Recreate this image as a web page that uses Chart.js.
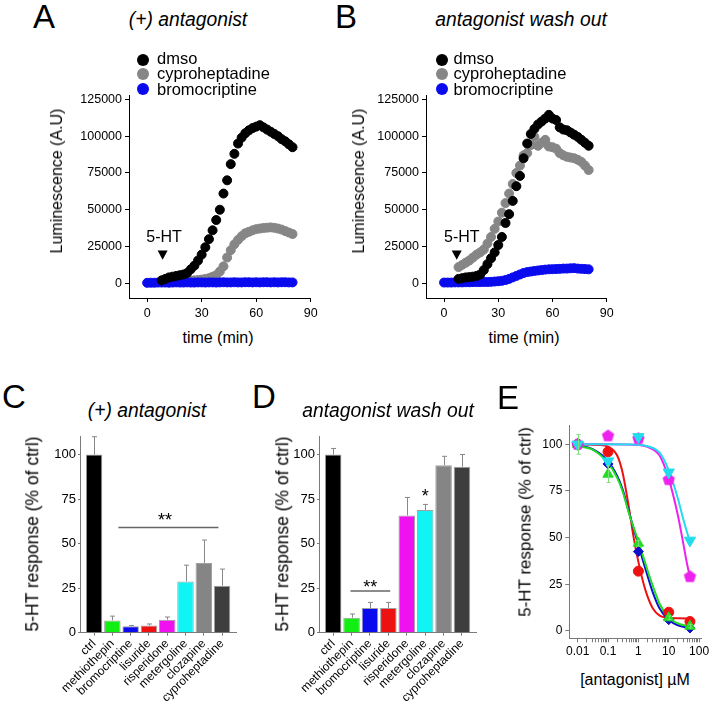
<!DOCTYPE html>
<html>
<head>
    <title>5-HT response with antagonists</title>
    <script src="https://cdn.jsdelivr.net/npm/chart.js"></script>
    <style>
        body {
            margin: 0;
            background: #fff;
            font-family: Arial, "Liberation Sans", sans-serif;
            color: #000;
        }
        #fig {
            position: relative;
            width: 709px;
            height: 707px;
            overflow: hidden;
            background: #fff;
        }
        canvas { position: absolute; }
        .t {
            position: absolute;
            white-space: nowrap;
            line-height: 1;
            transform: translate(-50%, -50%);
        }
        .letter { font-size: 33px; }
        .title { font-size: 19.3px; font-style: italic; }
        .ytitle { transform: translate(-50%, -50%) rotate(-90deg); }
        .leg { position: absolute; font-size: 16.5px; line-height: 1; white-space: nowrap; }
        .dot { position: absolute; width: 12px; height: 12px; border-radius: 50%; }
    </style>
</head>
<body>
<div id="fig">
    <canvas id="chartA" width="270" height="240" style="left:60px;top:80px"></canvas>
    <canvas id="chartB" width="270" height="240" style="left:357px;top:80px"></canvas>
    <canvas id="chartC" width="240" height="280" style="left:10px;top:425px"></canvas>
    <canvas id="chartD" width="240" height="280" style="left:250px;top:425px"></canvas>
    <canvas id="chartE" width="209" height="260" style="left:500px;top:410px"></canvas>

    <div class="t letter" style="left:44px;top:16px">A</div>
    <div class="t letter" style="left:346px;top:16px">B</div>
    <div class="t letter" style="left:14px;top:396px">C</div>
    <div class="t letter" style="left:264px;top:396px">D</div>
    <div class="t letter" style="left:508px;top:397px">E</div>

    <div class="t title" style="left:188px;top:20px">(+) antagonist</div>
    <div class="t title" style="left:521px;top:20px">antagonist wash out</div>
    <div class="t title" style="left:147px;top:411px">(+) antagonist</div>
    <div class="t title" style="left:388px;top:411px">antagonist wash out</div>

    <div class="t ytitle" style="left:57px;top:181px;font-size:16px">Luminescence (A.U)</div>
    <div class="t ytitle" style="left:359px;top:181px;font-size:16px">Luminescence (A.U)</div>
    <div class="t" style="left:218px;top:338px;font-size:16px">time (min)</div>
    <div class="t" style="left:524px;top:338px;font-size:16px">time (min)</div>

    <div class="t ytitle" style="left:33px;top:534px;font-size:17.5px">5-HT response (% of ctrl)</div>
    <div class="t ytitle" style="left:283px;top:534px;font-size:17.5px">5-HT response (% of ctrl)</div>
    <div class="t ytitle" style="left:525px;top:522px;font-size:17px">5-HT response (% of ctrl)</div>
    <div class="t" style="left:635px;top:680px;font-size:16px">[antagonist] µM</div>
</div>

<script>
    Chart.defaults.font.family = 'Arial, "Liberation Sans", sans-serif';
    Chart.defaults.color = '#000';

    // ---------- A / B : luminescence time course ----------
    const tBase = [0, 2, 4, 6, 8, 10, 12, 14, 16, 18, 20, 22, 24, 26, 28, 30, 32, 34, 36, 38, 40,
                   42, 44, 46, 48, 50, 52, 54, 56, 58, 60, 62, 64, 66, 68, 70, 72, 74, 76, 78, 80];
    const tDrug = [8, 10, 12, 14, 16, 18, 20, 22, 24, 26, 28, 30, 32, 34, 36, 38, 40,
                   42, 44, 46, 48, 50, 52, 54, 56, 58, 60, 62, 64, 66, 68, 70, 72, 74, 76, 78, 80];

    const aDmso = [2000, 3000, 4000, 4500, 5000, 5500, 6000, 7000, 9500, 12000, 15500, 19500, 24500,
                   30000, 36000, 43000, 50000, 61000, 70000, 81000, 88000, 95000, 99000, 102000, 104000,
                   105500, 106500, 107500, 106000, 104500, 103000, 101500, 100000, 98000, 96500, 94500, 92500];
    const aCypro = [1000, 1200, 1300, 1400, 1500, 1600, 1700, 1800, 1900, 2000, 2200, 2500, 3000,
                    3500, 4500, 5500, 8000, 11500, 17500, 22500, 26500, 29500, 32000, 34000, 35000,
                    36000, 36800, 37200, 37600, 37800, 38000, 37700, 37200, 36500, 35500, 34500, 33500];
    const aBromo = [300, 400, 400, 500, 500, 500, 400, 500, 600, 500,
                    500, 600, 500, 500, 600, 600, 500, 600, 600, 500,
                    600, 700, 600, 600, 700, 600, 600, 700, 700, 600,
                    700, 600, 700, 700, 600, 700, 600, 700, 700, 600, 600];

    const bDmso = [3000, 3500, 4000, 4200, 4500, 5000, 6000, 9000, 13000, 17000, 21000, 26000, 31500,
                   41000, 47000, 56000, 66000, 73000, 85000, 95000, 101500, 105000, 108000, 110000, 112000,
                   114500, 112000, 111000, 106000, 104500, 104000, 102500, 101000, 99500, 97500, 95500, 93500];
    const bCypro = [11000, 12500, 14000, 15500, 17500, 19500, 21000, 23000, 27000, 31500, 37000, 42000, 48000,
                    54500, 61000, 67500, 75000, 80000, 87000, 88500, 94000, 99500, 93500, 95500, 97500,
                    93000, 92500, 91500, 88500, 87000, 86000, 85500, 85000, 84000, 82500, 80000, 77000];
    const bBromo = [500, 500, 500, 600, 600, 600, 700, 700, 800, 800,
                    800, 900, 900, 1000, 1200, 1400, 1700, 2200, 3000, 4000,
                    5000, 6000, 7000, 7600, 8000, 8400, 8700, 9000, 9300, 9500,
                    9600, 9700, 9800, 10000, 10000, 10200, 10300, 10000, 9800, 9700, 9500];

    const timeTicks = [0, 30, 60, 90];
    const lumTicks = [0, 25000, 50000, 75000, 100000, 125000];
    const legendNames = ['dmso', 'cyproheptadine', 'bromocriptine'];

    // ---------- C / D : bar charts ----------
    const drugNames = ['ctrl', 'methiothepin', 'bromocriptine', 'lisuride', 'risperidone',
                       'metergoline', 'clozapine', 'cyproheptadine'];
    const cMean = [100, 6.9, 3.6, 4.1, 7.3, 28.8, 39.1, 26.4];
    const cSem = [10, 2.4, 0.4, 0.8, 1.5, 9.1, 12.9, 9.3];
    const dMean = [100, 8.4, 13.8, 13.8, 65.8, 68.8, 94, 93.1];
    const dSem = [3.4, 2.1, 3.2, 3.2, 10.1, 3.2, 5, 6.9];
    const pctTicks = [0, 25, 50, 75, 100];

    // ---------- E : dose response ----------
    const eDose = [0.01, 0.1, 1, 10, 50];
    const eMethiothepin = [100, 84, 47, 7, 2.5];
    const eMethiothepinSem = [5.3, 4.5, 1.5, 1, 1];
    const eBromocriptine = [100, 89.5, 42.5, 6, 1.5];
    const eLisuride = [100, 96, 32, 10, 5];
    const eRisperidone = [100, 104.5, 103, 81, 29];
    const eMetergoline = [100, 91, 104, 85, 48.5];

    // fitted curves
    const fitMethiothepinX = [0.01, 0.03, 0.1, 0.2, 0.3, 0.5, 1, 2, 3, 5, 10, 20, 60];
    const fitMethiothepinY = [99, 97.3, 90, 82, 75, 62.5, 48, 32.5, 24, 14.5, 7, 4, 2];
    const fitBromocriptineX = [0.01, 0.03, 0.1, 0.2, 0.3, 0.5, 1, 2, 3, 5, 10, 20, 60];
    const fitBromocriptineY = [99.5, 97.5, 91, 83, 76, 63, 46, 29.5, 20.5, 12, 6, 3, 1.3];
    const fitLisurideX = [0.01, 0.05, 0.1, 0.2, 0.3, 0.5, 0.7, 1, 1.5, 2, 3, 5, 10, 20, 60];
    const fitLisurideY = [100, 99.7, 98.8, 94, 85, 65, 50, 37, 25, 18.5, 12, 8.2, 7, 6.7, 6.6];
    const fitRisperidoneX = [0.01, 0.1, 1, 2, 5, 10, 20, 30, 40, 50];
    const fitRisperidoneY = [100, 100, 99.6, 98.6, 94, 81.5, 62, 47, 36, 29];
    const fitMetergolineX = [0.01, 0.1, 1, 2, 5, 10, 20, 30, 50];
    const fitMetergolineY = [100, 100, 99.8, 99, 95.5, 86, 71, 60, 47.5];

    const doseTickLabels = ['0.01', '0.1', '1', '10', '100'];
    const doseMajor = [0.01, 0.1, 1, 10, 100];

    const fig = document.getElementById('fig');

    function pts(xs, ys) {
        return xs.map((x, i) => ({ x: x, y: ys[i] }));
    }

    function fixAxis(size, horizontal) {
        return s => {
            if (horizontal) { s.height = size; } else { s.width = size; }
            s.paddingLeft = 0; s.paddingRight = 0; s.paddingTop = 0; s.paddingBottom = 0;
        };
    }

    // draws error bars, significance marks, arrows and small texts in data coordinates
    function notesPlugin(items) {
        return {
            id: 'notes',
            afterDatasetsDraw(chart) {
                const ctx = chart.ctx;
                const xs = chart.scales.x, ys = chart.scales.y;
                ctx.save();
                items.forEach(it => {
                    if (it.kind === 'err') {
                        const px = Math.round(xs.getPixelForValue(it.x)) + 0.5;
                        const p0 = ys.getPixelForValue(it.lo), p1 = ys.getPixelForValue(it.hi);
                        ctx.strokeStyle = it.color;
                        ctx.lineWidth = 1;
                        ctx.beginPath();
                        ctx.moveTo(px, p0); ctx.lineTo(px, p1);
                        ctx.moveTo(px - it.cap, p1); ctx.lineTo(px + it.cap, p1);
                        if (it.capLo) { ctx.moveTo(px - it.cap, p0); ctx.lineTo(px + it.cap, p0); }
                        ctx.stroke();
                    } else if (it.kind === 'hline') {
                        const py = ys.getPixelForValue(it.y);
                        ctx.strokeStyle = '#666';
                        ctx.lineWidth = 1.5;
                        ctx.beginPath();
                        ctx.moveTo(xs.getPixelForValue(it.x0), py);
                        ctx.lineTo(xs.getPixelForValue(it.x1), py);
                        ctx.stroke();
                    } else if (it.kind === 'star') {
                        ctx.fillStyle = '#000';
                        ctx.font = '18px Arial, "Liberation Sans", sans-serif';
                        ctx.textAlign = 'center';
                        ctx.textBaseline = 'alphabetic';
                        ctx.fillText(it.text, xs.getPixelForValue(it.x), ys.getPixelForValue(it.y) + 10);
                    } else if (it.kind === 'text') {
                        ctx.fillStyle = '#000';
                        ctx.font = '16px Arial, "Liberation Sans", sans-serif';
                        ctx.textAlign = 'center';
                        ctx.textBaseline = 'middle';
                        ctx.fillText(it.text, xs.getPixelForValue(it.x), ys.getPixelForValue(it.y));
                    } else if (it.kind === 'tri') {
                        const px = xs.getPixelForValue(it.x);
                        const top = ys.getPixelForValue(it.top), bot = ys.getPixelForValue(it.bottom);
                        ctx.fillStyle = '#000';
                        ctx.beginPath();
                        ctx.moveTo(px - 5, top); ctx.lineTo(px + 5, top); ctx.lineTo(px, bot);
                        ctx.closePath();
                        ctx.fill();
                    }
                });
                ctx.restore();
            }
        };
    }

    function timeChart(id, dmso, cypro, bromo, padRight, notes) {
        return new Chart(document.getElementById(id), {
            type: 'scatter',
            data: {
                datasets: [
                    { data: pts(tDrug, dmso), backgroundColor: '#000', borderColor: '#000', pointRadius: 4.5, order: 1 },
                    { data: pts(tBase, bromo), backgroundColor: '#0a0aee', borderColor: '#0a0aee', pointRadius: 4.5, order: 2 },
                    { data: pts(tDrug, cypro), backgroundColor: '#868686', borderColor: '#868686', pointRadius: 4.5, order: 3 }
                ]
            },
            options: {
                responsive: false,
                animation: false,
                layout: { padding: { left: 14, top: 15, right: padRight, bottom: 0 } },
                plugins: { legend: { display: false }, tooltip: { enabled: false } },
                scales: {
                    x: {
                        type: 'linear', min: -10, max: 90,
                        afterBuildTicks: s => { s.ticks = timeTicks.map(v => ({ value: v })); },
                        ticks: { font: { size: 12.5 }, padding: 4, maxRotation: 0, autoSkip: false },
                        grid: { drawOnChartArea: false, tickLength: 4, color: '#000' },
                        border: { color: '#000' },
                        afterFit: fixAxis(22, true)
                    },
                    y: {
                        min: -10000, max: 128000,
                        afterBuildTicks: s => { s.ticks = lumTicks.map(v => ({ value: v })); },
                        ticks: { font: { size: 12.5 }, padding: 3, callback: v => String(v) },
                        grid: { drawOnChartArea: false, tickLength: 4, color: '#000' },
                        border: { color: '#000' },
                        afterFit: fixAxis(55, false)
                    }
                }
            },
            plugins: [notesPlugin(notes)]
        });
    }

    function barChart(id, means, sems, padLeft, notes) {
        const errs = means.map((m, i) => ({ kind: 'err', x: i, lo: m, hi: m + sems[i], cap: 2.5, color: '#888' }));
        return new Chart(document.getElementById(id), {
            type: 'bar',
            data: {
                datasets: [{
                    data: pts(means.map((m, i) => i), means),
                    backgroundColor: ['#000000', '#11ee11', '#0a0aee', '#ee1111', '#f011f0', '#11f4f4', '#858585', '#3e3e3e'],
                    borderColor: '#a0a0a0',
                    borderWidth: 1,
                    barPercentage: 0.9,
                    categoryPercentage: 1
                }]
            },
            options: {
                responsive: false,
                animation: false,
                layout: { padding: { left: padLeft, top: 11.7, right: 13.3, bottom: 0 } },
                plugins: { legend: { display: false }, tooltip: { enabled: false } },
                scales: {
                    x: {
                        type: 'linear', min: -0.77, max: 7.8, offset: false,
                        afterBuildTicks: s => { s.ticks = drugNames.map((n, i) => ({ value: i })); },
                        ticks: { callback: v => drugNames[v], autoSkip: false, minRotation: 45, maxRotation: 45,
                                 font: { size: 12 }, padding: 1 },
                        grid: { drawOnChartArea: false, offset: false, tickLength: 3, color: '#7a7a7a' },
                        border: { color: '#7a7a7a' },
                        afterFit: fixAxis(72.3, true)
                    },
                    y: {
                        min: 0, max: 110,
                        afterBuildTicks: s => { s.ticks = pctTicks.map(v => ({ value: v })); },
                        ticks: { font: { size: 13 }, padding: 2 },
                        grid: { drawOnChartArea: false, tickLength: 2, color: '#7a7a7a' },
                        border: { color: '#7a7a7a' },
                        afterFit: fixAxis(40, false)
                    }
                }
            },
            plugins: [notesPlugin(errs.concat(notes))]
        });
    }

    function pentagon(color, r) {
        const c = document.createElement('canvas');
        const s = Math.ceil(r * 2 + 2);
        c.width = s; c.height = s;
        const g = c.getContext('2d');
        g.fillStyle = color;
        g.beginPath();
        for (let k = 0; k < 5; k++) {
            const a = -Math.PI / 2 + k * 2 * Math.PI / 5;
            const px = s / 2 + r * Math.cos(a), py = s / 2 + r * Math.sin(a);
            if (k === 0) { g.moveTo(px, py); } else { g.lineTo(px, py); }
        }
        g.closePath();
        g.fill();
        return c;
    }

    // legends for A and B
    function buildLegend(markerX, textX) {
        const colors = ['#000', '#868686', '#0a0aee'];
        const markerY = [60, 73.5, 89.3];
        const textTop = [50, 65, 81];
        legendNames.forEach((name, i) => {
            const d = document.createElement('div');
            d.className = 'dot';
            d.style.left = (markerX - 6) + 'px';
            d.style.top = (markerY[i] - 6) + 'px';
            d.style.background = colors[i];
            fig.appendChild(d);
            const t = document.createElement('div');
            t.className = 'leg';
            t.textContent = name;
            t.style.left = textX + 'px';
            t.style.top = textTop[i] + 'px';
            fig.appendChild(t);
        });
    }
    buildLegend(143, 157);
    buildLegend(441.7, 453.5);

    timeChart('chartA', aDmso, aCypro, aBromo, 19.3, [
        { kind: 'tri', x: 8.5, top: 22300, bottom: 16000 },
        { kind: 'text', x: 9.3, y: 30800, text: '5-HT' }
    ]);
    timeChart('chartB', bDmso, bCypro, bBromo, 20.3, [
        { kind: 'tri', x: 7, top: 22300, bottom: 16000 },
        { kind: 'text', x: 9.8, y: 30800, text: '5-HT' }
    ]);

    barChart('chartC', cMean, cSem, 30, [
        { kind: 'hline', x0: 1.33, x1: 6.8, y: 59 },
        { kind: 'star', x: 3.88, y: 65.4, text: '**' }
    ]);
    barChart('chartD', dMean, dSem, 29, [
        { kind: 'hline', x0: 0.94, x1: 3.1, y: 23.4 },
        { kind: 'star', x: 2.02, y: 27.7, text: '**' },
        { kind: 'star', x: 5.0, y: 79, text: '*' }
    ]);

    // dose axis ticks: every 1..9 x decade, labels on decades only
    const doseTicks = [];
    [0.01, 0.1, 1, 10].forEach(d => { for (let k = 1; k < 10; k++) doseTicks.push(+(d * k).toPrecision(3)); });
    doseTicks.push(100);

    const curve = (xs, ys, color) => ({
        type: 'line', data: pts(xs, ys), showLine: true, borderColor: color, borderWidth: 2,
        pointRadius: 0, cubicInterpolationMode: 'monotone', fill: false, order: 5
    });
    const marks = (ys, color, style, r, rot) => ({
        type: 'scatter', data: pts(eDose, ys), backgroundColor: color, borderColor: color,
        pointStyle: style, pointRadius: r, pointRotation: rot || 0, order: 1
    });

    new Chart(document.getElementById('chartE'), {
        type: 'scatter',
        data: {
            datasets: [
                curve(fitMetergolineX, fitMetergolineY, '#22dcee'),
                curve(fitRisperidoneX, fitRisperidoneY, '#ee22ee'),
                curve(fitMethiothepinX, fitMethiothepinY, '#22dd22'),
                curve(fitBromocriptineX, fitBromocriptineY, '#1010cc'),
                curve(fitLisurideX, fitLisurideY, '#ee1111'),
                marks(eMetergoline, '#22dcee', 'triangle', 6.5, 180),
                marks(eRisperidone, '#ee22ee', pentagon('#ee22ee', 6.5), 6.5),
                marks(eMethiothepin, '#22dd22', 'triangle', 6),
                marks(eBromocriptine, '#1010cc', 'rectRot', 5),
                marks(eLisuride, '#ee1111', 'circle', 5)
            ]
        },
        options: {
            responsive: false,
            animation: false,
            layout: { padding: { left: 29.3, top: 15.7, right: 6.3, bottom: 0 } },
            plugins: { legend: { display: false }, tooltip: { enabled: false } },
            scales: {
                x: {
                    type: 'logarithmic', min: 0.0053, max: 120,
                    afterBuildTicks: s => { s.ticks = doseTicks.map(v => ({ value: v })); },
                    ticks: { autoSkip: false, maxRotation: 0, font: { size: 12 }, padding: 2,
                             callback: v => { const k = doseMajor.indexOf(v); return k >= 0 ? doseTickLabels[k] : ''; } },
                    grid: { drawOnChartArea: false, tickLength: 4, color: '#7a7a7a' },
                    border: { color: '#7a7a7a' },
                    afterFit: fixAxis(31.7, true)
                },
                y: {
                    min: -4, max: 110,
                    afterBuildTicks: s => { s.ticks = pctTicks.map(v => ({ value: v })); },
                    ticks: { font: { size: 12 }, padding: 3 },
                    grid: { drawOnChartArea: false, tickLength: 4, color: '#7a7a7a' },
                    border: { color: '#7a7a7a' },
                    afterFit: fixAxis(40, false)
                }
            }
        },
        plugins: [notesPlugin(eDose.map((x, i) => ({
            kind: 'err', x: x, lo: eMethiothepin[i] - eMethiothepinSem[i], hi: eMethiothepin[i] + eMethiothepinSem[i],
            cap: 2, capLo: true, color: '#7be07b'
        })))]
    });
</script>
</body>
</html>
